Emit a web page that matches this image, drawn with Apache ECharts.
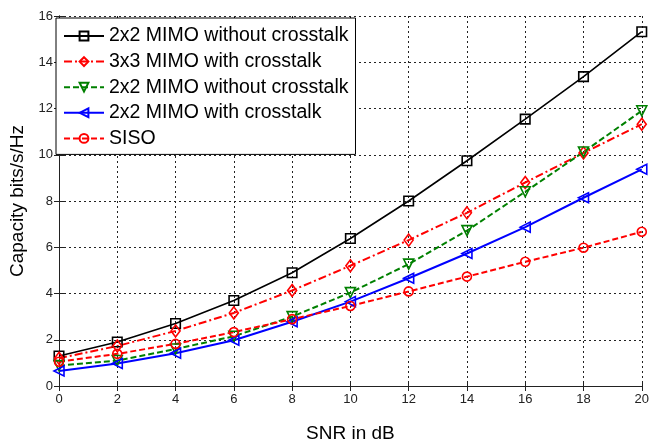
<!DOCTYPE html>
<html>
<head>
<meta charset="utf-8">
<script src="https://cdn.jsdelivr.net/npm/echarts@6/dist/echarts.min.js"></script>
<style>
html,body{margin:0;padding:0;background:#fff;}
#chart{width:652px;height:448px;}
</style>
</head>
<body>
<div id="chart"></div>
<script>
// Data
var snr = [0, 2, 4, 6, 8, 10, 12, 14, 16, 18, 20];
var mimo2NoXtalkA = [1.30, 1.90, 2.70, 3.70, 4.90, 6.38, 8.00, 9.74, 11.54, 13.38, 15.32];
var mimo3Xtalk = [1.20, 1.73, 2.38, 3.16, 4.13, 5.20, 6.31, 7.49, 8.80, 10.08, 11.32];
var mimo2NoXtalkB = [0.88, 1.10, 1.60, 2.15, 3.00, 4.04, 5.27, 6.72, 8.40, 10.12, 11.90];
var mimo2Xtalk = [0.65, 0.97, 1.42, 1.98, 2.78, 3.65, 4.66, 5.73, 6.87, 8.14, 9.37];
var siso = [1.05, 1.39, 1.82, 2.33, 2.89, 3.46, 4.09, 4.73, 5.37, 5.98, 6.67];

var seriesNames = ['2x2 MIMO without crosstalk', '3x3 MIMO with crosstalk', '2x2 MIMO without crosstalk (2)', '2x2 MIMO with crosstalk', 'SISO'];
var legendText = {};
legendText[seriesNames[0]] = '2x2 MIMO without crosstalk';
legendText[seriesNames[1]] = '3x3 MIMO with crosstalk';
legendText[seriesNames[2]] = '2x2 MIMO without crosstalk';
legendText[seriesNames[3]] = '2x2 MIMO with crosstalk';
legendText[seriesNames[4]] = 'SISO';

function pairs(ys) { return snr.map(function (x, i) { return [x, ys[i]]; }); }

var FONT = "'Liberation Sans', Arial, sans-serif";

function mk(name, ys, color, type, width, symbol, size, rot) {
  return {
    name: name,
    type: 'line',
    data: pairs(ys),
    symbol: symbol,
    symbolSize: size,
    symbolRotate: rot || 0,
    showAllSymbol: true,
    lineStyle: { color: color, width: width, type: type },
    itemStyle: { color: 'rgba(255,255,255,0)', borderColor: color, borderWidth: 1.6 },
    emphasis: { disabled: true },
    animation: false,
    z: 3
  };
}

var chart = echarts.init(document.getElementById('chart'), null, { renderer: 'canvas' });
chart.setOption({
  backgroundColor: '#fff',
  animation: false,
  grid: { left: 59, right: 5, top: 16, bottom: 58, containLabel: false },
  legend: {
    left: 56, top: 18,
    orient: 'vertical',
    data: seriesNames,
    formatter: function (n) { return legendText[n]; },
    backgroundColor: '#fff',
    borderColor: '#000',
    borderWidth: 1,
    padding: [8, 7, 6, 7],
    itemWidth: 40,
    itemHeight: 11,
    itemGap: 5.6,
    textStyle: { fontFamily: FONT, fontSize: 19.5, color: '#000', lineHeight: 20 },
    selectedMode: false,
    z: 10
  },
  xAxis: [{
    type: 'value', min: 0, max: 20, interval: 2,
    name: 'SNR in dB', nameLocation: 'middle', nameGap: 38,
    nameTextStyle: { fontFamily: FONT, fontSize: 19, color: '#000' },
    axisLine: { show: true, lineStyle: { color: '#222', width: 1 } },
    axisTick: { show: true, inside: true, length: 5, lineStyle: { color: '#222' } },
    axisLabel: { fontFamily: FONT, fontSize: 13, color: '#222', margin: 7 },
    splitLine: { show: true, lineStyle: { color: '#222', type: [2, 3], width: 1 } }
  }, {
    type: 'value', min: 0, max: 20, interval: 2, position: 'top',
    axisLine: { show: true, lineStyle: { color: '#222', width: 1 } },
    axisTick: { show: true, inside: true, length: 5, lineStyle: { color: '#222' } },
    axisLabel: { show: false },
    splitLine: { show: false }
  }],
  yAxis: [{
    type: 'value', min: 0, max: 16, interval: 2,
    name: 'Capacity bits/s/Hz', nameLocation: 'middle', nameGap: 29,
    nameTextStyle: { fontFamily: FONT, fontSize: 19, color: '#000' },
    axisLine: { show: true, lineStyle: { color: '#222', width: 1 } },
    axisTick: { show: true, inside: true, length: 5, lineStyle: { color: '#222' } },
    axisLabel: { fontFamily: FONT, fontSize: 13, color: '#222', margin: 6 },
    splitLine: { show: true, lineStyle: { color: '#222', type: [2, 3], width: 1 } }
  }, {
    type: 'value', min: 0, max: 16, interval: 2, position: 'right',
    axisLine: { show: true, lineStyle: { color: '#222', width: 1 } },
    axisTick: { show: true, inside: true, length: 5, lineStyle: { color: '#222' } },
    axisLabel: { show: false },
    splitLine: { show: false }
  }],
  series: [
    mk(seriesNames[0], mimo2NoXtalkA, '#000000', 'solid', 1.6, 'rect', 9.5, 0),
    mk(seriesNames[1], mimo3Xtalk, '#ff0000', [8, 3, 2, 3], 2, 'diamond', [9, 12], 0),
    mk(seriesNames[2], mimo2NoXtalkB, '#008000', [6, 3], 2, 'triangle', 10, 180),
    mk(seriesNames[3], mimo2Xtalk, '#0000ff', 'solid', 2, 'triangle', 10, 90),
    mk(seriesNames[4], siso, '#ff0000', [6, 3], 2, 'circle', 9, 0)
  ]
});
</script>
</body>
</html>
